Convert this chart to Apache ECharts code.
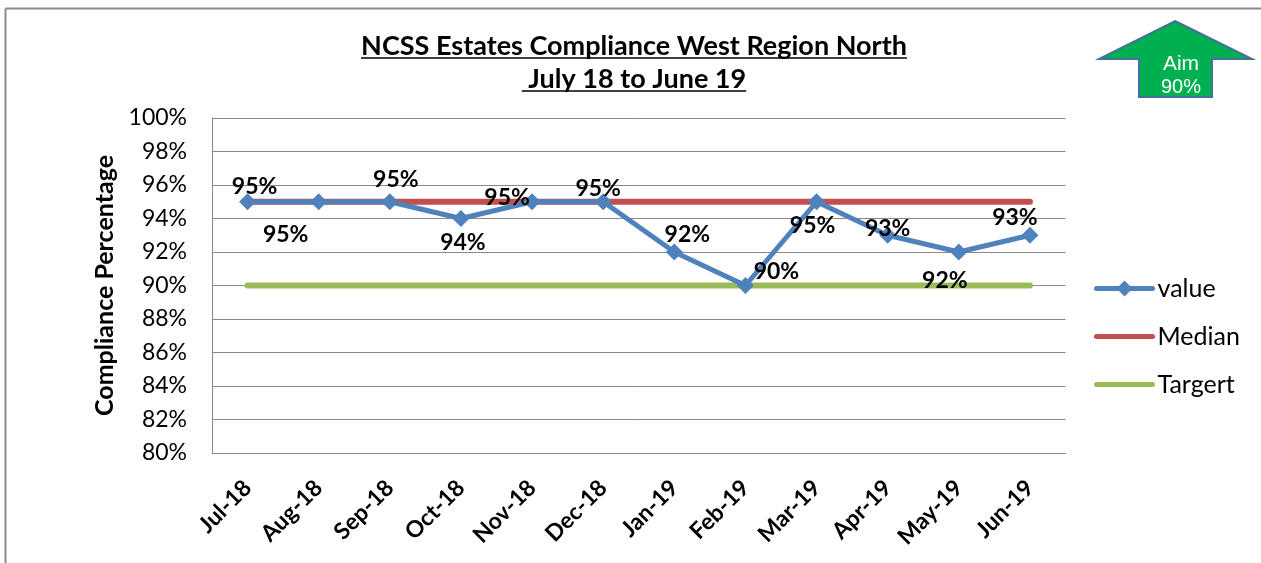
<!DOCTYPE html>
<html>
<head>
<meta charset="utf-8">
<script src="https://cdn.jsdelivr.net/npm/echarts@6/dist/echarts.min.js"></script>
<style>
html,body{margin:0;padding:0;background:#fff;}
#c{width:1261px;height:563px;}
</style>
</head>
<body>
<div id="c"></div>
<script>
// ---- data ----
const categories = ['Jul-18','Aug-18','Sep-18','Oct-18','Nov-18','Dec-18','Jan-19','Feb-19','Mar-19','Apr-19','May-19','Jun-19'];
const values = [95,95,95,94,95,95,92,90,95,93,92,93];
const medianVals = [95,95,95,95,95,95,95,95,95,95,95,95];
const targetVals = [90,90,90,90,90,90,90,90,90,90,90,90];
const titleLines = ['NCSS Estates Compliance West Region North', ' July 18 to June 19'];
const aimText = ['Aim', '90%'];

// ---- style config ----
const FONT = 'Lato';
const labelOffsets = [[7,-15],[-33,33],[6,-22],[2,24],[-25,-4],[-5,-13],[13,-17],[31,-14],[-4,24],[0,-7],[-14,29],[-15,-18]];

const chart = echarts.init(document.getElementById('c'));

function textWidth(txt, font){
  const cv = document.createElement('canvas');
  const ctx = cv.getContext('2d');
  ctx.font = font;
  return ctx.measureText(txt).width;
}
const titleFont = 'bold 27px ' + FONT;
const titleX = 634;
const titleY = [46, 79];
const ulY = [58, 91];
const titleGraphics = [];
titleLines.forEach((t, i) => {
  const w = textWidth(t, titleFont);
  titleGraphics.push({
    type: 'text', x: titleX, y: titleY[i],
    style: { text: t, font: titleFont, fill: '#000', align: 'center', verticalAlign: 'middle' }
  });
  titleGraphics.push({
    type: 'line', shape: { x1: titleX - w/2, y1: ulY[i], x2: titleX + w/2, y2: ulY[i] },
    style: { stroke: '#000', lineWidth: 1.5 }
  });
});

const valueData = values.map((v, i) => ({
  value: v,
  label: { offset: labelOffsets[i] }
}));

const option = {
  animation: false,
  backgroundColor: '#fff',
  textStyle: { fontFamily: FONT },
  grid: { left: 212, top: 118, right: 195.5, bottom: 110, containLabel: false },
  legend: {
    orient: 'vertical', left: 1089, top: 271,
    itemWidth: 56, itemHeight: 20, itemGap: 23,
    textStyle: { fontFamily: FONT, fontSize: 25, color: '#000' },
    lineStyle: { width: 5, cap: 'round' },
    data: [
      { name: 'value' },
      { name: 'Median', itemStyle: { opacity: 0 } },
      { name: 'Targert', itemStyle: { opacity: 0 } }
    ]
  },
  xAxis: {
    type: 'category', data: categories, boundaryGap: true,
    axisLine: { lineStyle: { color: '#888', width: 1 } },
    axisTick: { show: false },
    axisLabel: { rotate: 45, margin: 31, fontFamily: FONT, fontWeight: 'bold', fontSize: 23, color: '#000', interval: 0 }
  },
  yAxis: {
    type: 'value', min: 80, max: 100, interval: 2,
    name: 'Compliance Percentage', nameLocation: 'middle', nameRotate: 90, nameGap: 92,
    nameTextStyle: { fontFamily: FONT, fontWeight: 'bold', fontSize: 25, color: '#000' },
    axisLine: { show: true, lineStyle: { color: '#888', width: 1 } },
    axisTick: { show: false },
    splitLine: { lineStyle: { color: '#888', width: 1 } },
    axisLabel: { formatter: '{value}%', margin: 25, fontFamily: FONT, fontSize: 23, color: '#000' }
  },
  series: [
    {
      name: 'value', type: 'line', data: valueData,
      symbol: 'diamond', symbolSize: 17,
      lineStyle: { color: '#4F81BD', width: 5 },
      itemStyle: { color: '#4F81BD' },
      label: { show: true, position: 'inside', formatter: '{c}%', fontFamily: FONT, fontWeight: 'bold', fontSize: 23, color: '#000' },
      z: 4
    },
    {
      name: 'Median', type: 'line', data: medianVals,
      symbol: 'none', showSymbol: false,
      lineStyle: { color: '#C0504D', width: 6, cap: 'round' },
      itemStyle: { color: '#C0504D' },
      z: 3
    },
    {
      name: 'Targert', type: 'line', data: targetVals,
      symbol: 'none', showSymbol: false,
      lineStyle: { color: '#9BBB59', width: 6, cap: 'round' },
      itemStyle: { color: '#9BBB59' },
      z: 3
    }
  ],
  graphic: [
    { type: 'line', shape: { x1: 5.5, y1: 8.5, x2: 1261, y2: 8.5 }, style: { stroke: '#8a8a8a', lineWidth: 2 } },
    { type: 'line', shape: { x1: 5.5, y1: 8.5, x2: 5.5, y2: 563 }, style: { stroke: '#8a8a8a', lineWidth: 2 } },
    {
      type: 'polygon',
      shape: { points: [[1175,21],[1252,59],[1212,59],[1212,97],[1139,97],[1139,59],[1099,59]] },
      style: { fill: '#00B050', stroke: '#41719C', lineWidth: 2 }
    },
    { type: 'text', x: 1181, y: 64, style: { text: aimText[0], font: '21px "Liberation Sans"', fill: '#fff', align: 'center', verticalAlign: 'middle' } },
    { type: 'text', x: 1181, y: 87, style: { text: aimText[1], font: '20px "Liberation Sans"', fill: '#fff', align: 'center', verticalAlign: 'middle' } }
  ].concat(titleGraphics)
};
chart.setOption(option);
</script>
</body>
</html>
